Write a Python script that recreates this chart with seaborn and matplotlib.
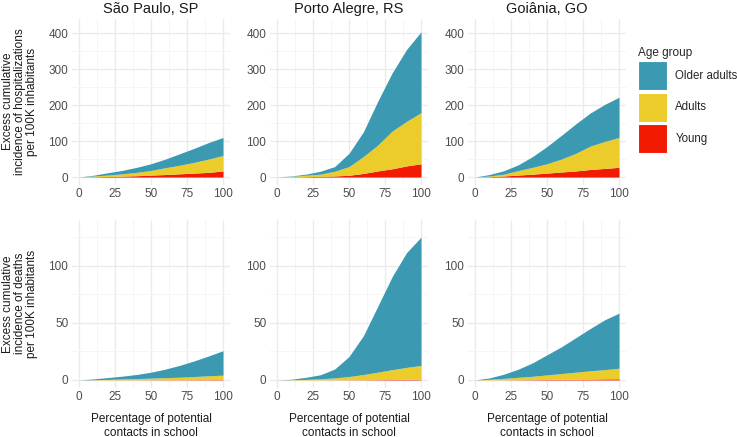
import numpy as np
import pandas as pd
import seaborn as sns
import matplotlib.pyplot as plt
from matplotlib.patches import Patch
from matplotlib.ticker import MultipleLocator

# percentage of potential contacts in school
pct = [0, 10, 20, 30, 40, 50, 60, 70, 80, 90, 100]

cities = ["São Paulo, SP", "Porto Alegre, RS", "Goiânia, GO"]
groups = ["Young", "Adults", "Older adults"]

# excess hospitalizations per 100K (per age group, stacked in the plot)
sp_hosp_young = [0, 0.8, 1.5, 2.5, 3.7, 5.5, 7, 9, 11, 13, 17]
sp_hosp_adults = [0, 2.2, 4, 6.5, 9.3, 13, 19, 24, 30, 37, 43]
sp_hosp_older = [0, 2, 6.5, 9.5, 14, 18.5, 24, 32, 39, 46, 50]

pa_hosp_young = [0, 0.5, 1, 2, 3, 5, 10, 17, 23, 31, 37]
pa_hosp_adults = [0, 1.5, 4, 6, 13, 24, 47, 72, 105, 124, 142]
pa_hosp_older = [0, 1, 3, 8, 13, 37, 69, 122, 162, 200, 225]

go_hosp_young = [0, 1, 3, 5.5, 8, 11, 14, 17, 21, 24, 27]
go_hosp_adults = [0, 2, 5, 12.5, 19, 26, 36, 49, 65, 75, 83]
go_hosp_older = [0, 4, 9.6, 16, 30, 48, 66, 82, 92, 103, 112]

# excess deaths per 100K
sp_death_young = [0, 0, 0.05, 0.1, 0.1, 0.15, 0.2, 0.2, 0.25, 0.3, 0.3]
sp_death_adults = [0, 0.2, 0.45, 0.8, 1.1, 1.45, 1.8, 2.2, 2.75, 3.3, 3.9]
sp_death_older = [0, 0.7, 1.6, 2.4, 3.6, 5.2, 7.5, 10.4, 13.7, 17.4, 21.4]

pa_death_young = [0, 0, 0, 0.05, 0.1, 0.15, 0.2, 0.3, 0.4, 0.5, 0.5]
pa_death_adults = [0, 0.2, 0.5, 0.95, 1.7, 2.85, 4.5, 6.5, 8.6, 10.5, 12.2]
pa_death_older = [0, 0.4, 1.8, 3.5, 7.7, 17.5, 34, 57.7, 81.5, 100.5, 112.3]

go_death_young = [0, 0.05, 0.1, 0.2, 0.3, 0.4, 0.5, 0.6, 0.7, 0.9, 1.0]
go_death_adults = [0, 0.55, 1.3, 2.1, 2.9, 4.0, 5.1, 6.2, 7.3, 8.1, 9.3]
go_death_older = [0, 1.2, 3.6, 7.1, 11.8, 17.6, 23.4, 30.2, 37, 43.6, 48.2]

hosp = [
    (sp_hosp_young, sp_hosp_adults, sp_hosp_older),
    (pa_hosp_young, pa_hosp_adults, pa_hosp_older),
    (go_hosp_young, go_hosp_adults, go_hosp_older),
]
deaths = [
    (sp_death_young, sp_death_adults, sp_death_older),
    (pa_death_young, pa_death_adults, pa_death_older),
    (go_death_young, go_death_adults, go_death_older),
]

colors = ["#F21A00", "#EBCC2A", "#3B9AB2"]

sns.set_theme(style="whitegrid")
plt.rcParams['font.family'] = ['Liberation Sans', 'DejaVu Sans']

fig = plt.figure(figsize=(7.37, 4.37), dpi=100)

W, H = 737.0, 437.0
lefts = [71.8, 269.8, 467.8]
pw = 158.4
rows = [(18.5, 184.6), (220.0, 387.6)]
ylims = [(-21, 441), (-6.7, 140)]
ymajor = [100, 50]
yminor = [50, 25]

axs = []
for r in range(2):
    top, bot = rows[r]
    row_axes = []
    for c in range(3):
        ax = fig.add_axes([lefts[c] / W, 1 - bot / H, pw / W, (bot - top) / H])
        data = hosp[c] if r == 0 else deaths[c]
        df = pd.DataFrame({"pct": pct, "Young": data[0], "Adults": data[1], "Older adults": data[2]})
        ax.stackplot(df["pct"], df["Young"], df["Adults"], df["Older adults"],
                     colors=colors, labels=groups, linewidth=0)
        ax.set_xlim(-5, 105)
        ax.set_ylim(*ylims[r])
        ax.xaxis.set_major_locator(MultipleLocator(25))
        ax.xaxis.set_minor_locator(MultipleLocator(12.5))
        ax.yaxis.set_major_locator(MultipleLocator(ymajor[r]))
        ax.yaxis.set_minor_locator(MultipleLocator(yminor[r]))
        ax.grid(which='major', color='#EBEBEB', linewidth=1.0)
        ax.grid(which='minor', color='#F4F4F4', linewidth=0.6)
        ax.set_axisbelow(True)
        ax.set_facecolor('white')
        for s in ax.spines.values():
            s.set_visible(False)
        ax.tick_params(which='both', length=0, labelsize=8.5, labelcolor='#4D4D4D', pad=2.5)
        if r == 0:
            ax.set_title(cities[c], fontsize=10.5, color='#1A1A1A', pad=4)
        else:
            ax.set_xlabel("Percentage of potential\ncontacts in school", fontsize=8.5, color='#1A1A1A')
            ax.xaxis.set_label_coords(0.5, -0.15)
        row_axes.append(ax)
    axs.append(row_axes)

# row labels
fig.text(20 / W, 1 - 101.5 / H,
         "Excess cumulative\nincidence of hospitalizations\nper 100K inhabitants",
         rotation=90, ha='center', va='center', multialignment='center',
         fontsize=8.5, color='#1A1A1A', linespacing=1.0)
fig.text(20 / W, 1 - 303.8 / H,
         "Excess cumulative\nincidence of deaths\nper 100K inhabitants",
         rotation=90, ha='center', va='center', multialignment='center',
         fontsize=8.5, color='#1A1A1A', linespacing=1.0)

# legend
handles = [Patch(facecolor=colors[i], edgecolor='white', linewidth=0.8, label=groups[i]) for i in [2, 1, 0]]
leg = fig.legend(handles=handles, title="Age group", loc='upper left',
                 bbox_to_anchor=(638 / W, 1 - 47 / H), frameon=False,
                 fontsize=8.3, title_fontsize=8.5, handlelength=2.5, handleheight=3.5,
                 labelspacing=0.2, handletextpad=0.75, borderaxespad=0, borderpad=0)
leg._legend_box.align = "left"

fig.savefig("out.png", dpi=100)
